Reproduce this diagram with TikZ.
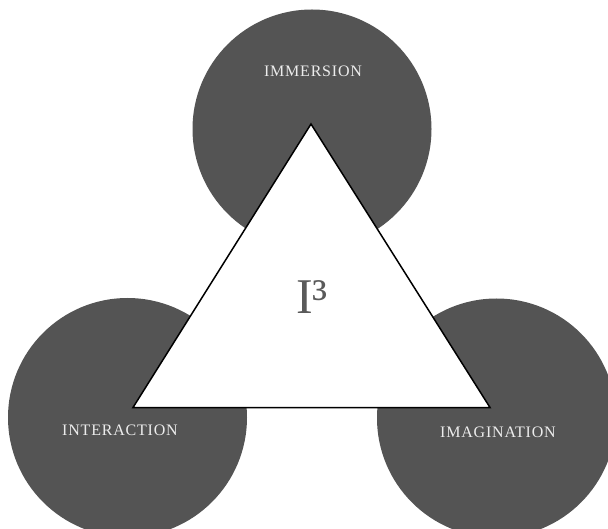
\documentclass[tikz,border=0pt]{standalone}
\usepackage{fontspec}
\setmainfont{Liberation Serif}
\definecolor{petal}{RGB}{84,84,84}
\definecolor{petaltext}{RGB}{236,236,236}
\definecolor{coretext}{RGB}{90,90,90}
\newcommand{\Petal}[5]{%
	\node[circle,fill=petal,minimum size=239pt,inner sep=0pt] (#1) at (#2) {};
	\node[font=\fontsize{16}{18}\selectfont\addfontfeature{LetterSpace=5},text=petaltext] (#1-lbl) at (#3,#4) {#5};
}
\begin{document}
\begin{tikzpicture}[x=1pt,y=-1pt]
	\useasboundingbox (0,0) rectangle (608,529);
	
	% les trois cercles
	\Petal{immersion}{312,129}{313}{71}{IMMERSION}
	\Petal{interaction}{127.5,417.5}{120}{430}{INTERACTION}
	\Petal{imagination}{496.5,418}{498}{432}{IMAGINATION}
	
	% triangle central
	\coordinate (apex) at (311,124);
	\coordinate (base-l) at (133,407.5);
	\coordinate (base-r) at (490,407.5);
	\draw[line width=1.5pt,fill=white,line join=miter] (apex) -- (base-l) -- (base-r) -- cycle;
	
	\node[font=\fontsize{50}{56}\selectfont,text=coretext] (core) at (312,297) {I³};
	
\end{tikzpicture}
\end{document}
